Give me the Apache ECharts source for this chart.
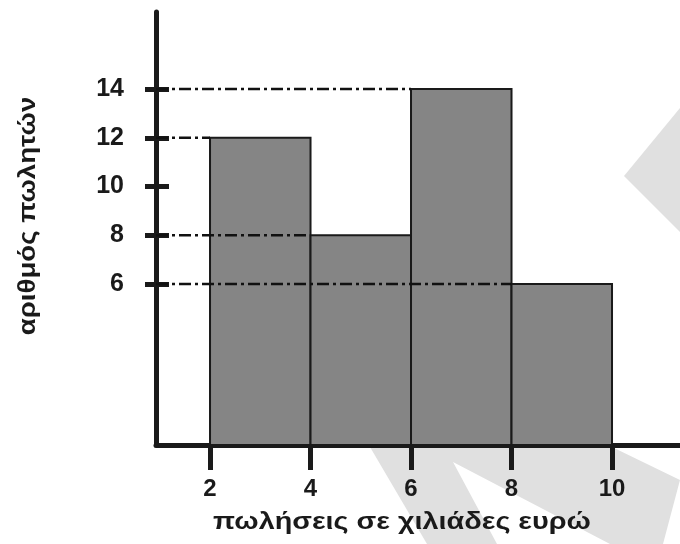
<!DOCTYPE html>
<html>
<head>
<meta charset="utf-8">
<script src="https://cdn.jsdelivr.net/npm/echarts@6/dist/echarts.min.js"></script>
<style>html,body{margin:0;padding:0;background:#fff;}#c{width:680px;height:544px;}</style>
</head>
<body>
<div id="c"></div>
<script>
// ---- data ----
const binEdges = [2, 4, 6, 8, 10];
const counts = [12, 8, 14, 6];
const xTickValues = [2, 4, 6, 8, 10];
const yTickValues = [6, 8, 10, 12, 14];
const guideLevels = [14, 12, 8, 6];
const xTitle = 'πωλήσεις σε χιλιάδες ευρώ';
const yTitle = 'αριθμός πωλητών';

// ---- axis ranges ----
const xMin = 0.925, xMax = 11.353;
const yMin = -0.605, yMax = 17.16;

const FONT = 'Liberation Sans, Arial, sans-serif';
const INK = '#1a1a1a';

const histData = counts.map((c, i) => [binEdges[i], binEdges[i + 1], c]);

const guideSeries = guideLevels.map(level => {
  const idx = counts.indexOf(level);
  const endX = binEdges[idx];
  return {
    type: 'line',
    xAxisIndex: 0, yAxisIndex: 0,
    data: [[xMin, level], [endX, level]],
    symbol: 'none',
    silent: true,
    z: 4,
    lineStyle: { color: '#111', width: 2.5, type: [12, 4, 3, 4] }
  };
});

const chart = echarts.init(document.getElementById('c'));
chart.setOption({
  animation: false,
  backgroundColor: '#fff',
  grid: { left: 156, right: 0, top: 12, bottom: 99, containLabel: false },
  xAxis: {
    type: 'value', min: xMin, max: xMax,
    axisLine: { show: true, onZero: false, lineStyle: { color: INK, width: 5 } },
    axisTick: { show: true, customValues: xTickValues, length: 25, lineStyle: { color: INK, width: 5 } },
    axisLabel: { customValues: xTickValues, margin: 32, fontSize: 24, fontWeight: 'bold', color: INK, fontFamily: FONT },
    splitLine: { show: false }
  },
  yAxis: [{
    type: 'value', min: yMin, max: yMax, position: 'left',
    axisLine: { show: true, onZero: false, lineStyle: { color: INK, width: 5 } },
    axisTick: { show: true, customValues: yTickValues, length: 11, lineStyle: { color: INK, width: 5 } },
    axisLabel: { customValues: yTickValues, margin: 32, fontSize: 25, fontWeight: 'bold', color: INK, fontFamily: FONT, padding: [6, 0, 0, 0] },
    splitLine: { show: false }
  }, {
    type: 'value', min: yMin, max: yMax, position: 'left',
    axisLine: { show: false },
    axisTick: { show: true, inside: true, customValues: yTickValues, length: 13, lineStyle: { color: INK, width: 5 } },
    axisLabel: { show: false },
    splitLine: { show: false }
  }],
  graphic: {
    elements: [
      { type: 'polygon', z: -10, silent: true,
        shape: { points: [[624, 176], [680, 108], [680, 232]] },
        style: { fill: '#e0e0e0' } },
      { type: 'polygon', z: -10, silent: true,
        shape: { points: [[370, 447], [612, 447], [680, 480], [663, 544], [610, 544], [453, 462], [497, 544], [427, 544]] },
        style: { fill: '#e0e0e0' } },
      { type: 'text', z: 10, x: 402, y: 522, scaleX: 1.2,
        style: { text: xTitle, font: 'bold 24px ' + FONT, fill: INK, textAlign: 'center', textVerticalAlign: 'middle' } },
      { type: 'text', z: 10, x: 29, y: 216, rotation: Math.PI / 2, scaleX: 1.2,
        style: { text: yTitle, font: 'bold 23px ' + FONT, fill: INK, textAlign: 'center', textVerticalAlign: 'middle' } }
    ]
  },
  series: [{
    type: 'custom',
    xAxisIndex: 0, yAxisIndex: 0,
    data: histData,
    encode: { x: [0, 1], y: 2 },
    z: 2,
    renderItem: function (params, api) {
      const x0 = api.value(0), x1 = api.value(1), v = api.value(2);
      const pTop = api.coord([x0, v]);
      const pBot = api.coord([x1, yMin]);
      return {
        type: 'rect',
        shape: { x: pTop[0], y: pTop[1], width: pBot[0] - pTop[0], height: pBot[1] - pTop[1] },
        style: { fill: '#858585', stroke: INK, lineWidth: 2 }
      };
    }
  }].concat(guideSeries)
});
</script>
</body>
</html>
